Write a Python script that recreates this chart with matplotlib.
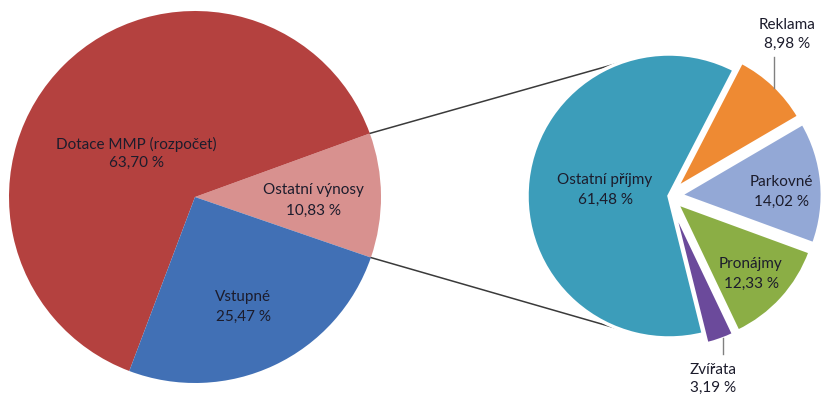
import numpy as np
import matplotlib
matplotlib.use('Agg')
import matplotlib.pyplot as plt

plt.rcParams['font.family'] = ['Lato', 'DejaVu Sans']

# levý koláč (výnosy celkem)
main_labels = ['Ostatní výnosy', 'Dotace MMP (rozpočet)', 'Vstupné']
main_values = [10.83, 63.70, 25.47]
main_colors = ['#D8918F', '#B4413F', '#4170B5']

# pravý koláč (rozpad ostatních výnosů)
sub_labels = ['Zvířata', 'Pronájmy', 'Parkovné', 'Reklama', 'Ostatní příjmy']
sub_values = [3.19, 12.33, 14.02, 8.98, 61.48]
sub_colors = ['#6B4A9B', '#8BAE45', '#93A8D6', '#EE8A33', '#3C9DBA']

W, H = 822, 398
# geometrie v pixelech (y od spodu)
C1, R1, START1 = (195, H - 197), 186, -19.0
C2, R2, START2 = (669, H - 196), 142, -76.0
# vysunutí malých výsečí (pie bere explode v jednotkách dat)
sub_explode = [e * R2 for e in (0.075, 0.075, 0.08, 0.075, 0.0)]

# pozice popisků (pixely od horního okraje)
main_pos = [(313, 190, 211), (136, 144, 163), (243, 297, 317)]
sub_pos = [(713, 370, 388), (751, 264, 284), (781, 182, 202), (787, 25, 44), (605, 180, 200)]

fmt = lambda v: f'{v:.2f}'.replace('.', ',') + ' %'

fig = plt.figure(figsize=(W / 100, H / 100), dpi=100)
ax = fig.add_axes([0, 0, 1, 1])

ax.pie(main_values, colors=main_colors, startangle=START1, center=C1, radius=R1,
       counterclock=True, wedgeprops=dict(linewidth=0))
ax.pie(sub_values, colors=sub_colors, startangle=START2, center=C2, radius=R2,
       explode=sub_explode, counterclock=True,
       wedgeprops=dict(edgecolor='white', linewidth=2.5))

# spojnice mezi koláči
a_lo = np.radians(START1)
a_hi = np.radians(START1 + main_values[0] * 3.6)
for a1, a2 in [(a_hi, np.radians(110)), (a_lo, np.radians(-110))]:
    ax.plot([C1[0] + R1 * np.cos(a1), C2[0] + R2 * np.cos(a2)],
            [C1[1] + R1 * np.sin(a1), C2[1] + R2 * np.sin(a2)],
            color='#3a3a3a', linewidth=1.1, zorder=0)

txt = dict(ha='center', va='center', fontsize=11, color='#1c1c2c')
for lab, val, (x, y1, y2) in zip(main_labels, main_values, main_pos):
    ax.text(x, H - y1, lab, **txt)
    ax.text(x, H - y2, fmt(val), **txt)
for lab, val, (x, y1, y2) in zip(sub_labels, sub_values, sub_pos):
    ax.text(x, H - y1, lab, **txt)
    ax.text(x, H - y2, fmt(val), **txt)

# vodicí čáry k malým výsečím
ax.plot([774, 774], [H - 57, H - 88], color='#808080', linewidth=1)
ax.plot([723, 723], [H - 338, H - 354], color='#808080', linewidth=1)

ax.set_xlim(0, W)
ax.set_ylim(0, H)
ax.set_aspect('equal')
ax.axis('off')

plt.savefig('out.png', dpi=100)
plt.close()
